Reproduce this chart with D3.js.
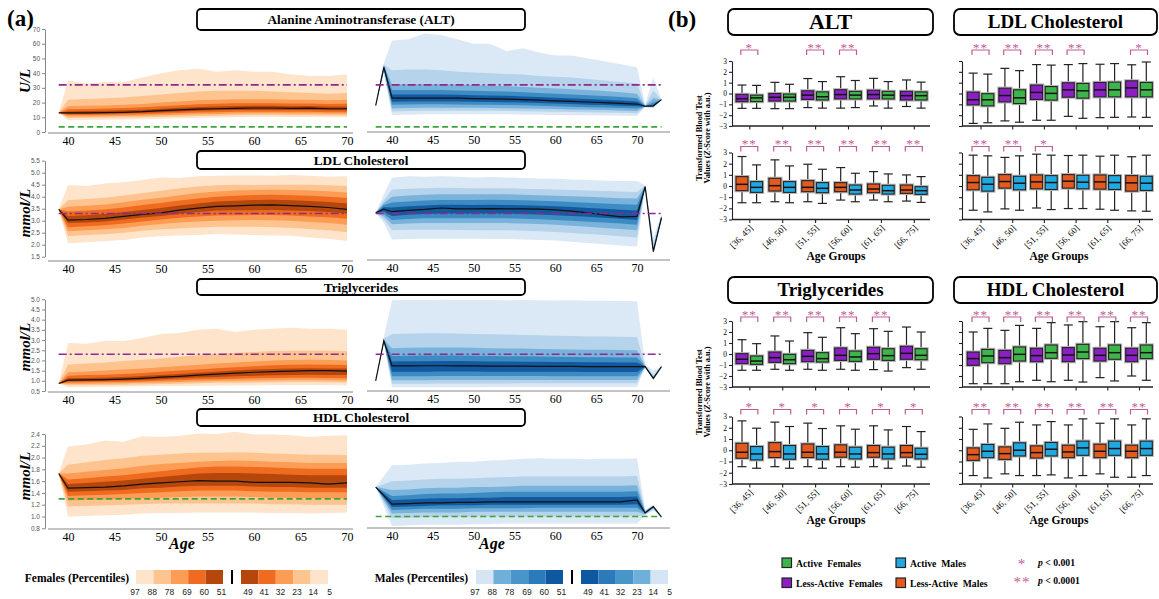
<!DOCTYPE html>
<html>
<head>
<meta charset="utf-8">
<script src="https://cdnjs.cloudflare.com/ajax/libs/d3/7.8.5/d3.min.js"></script>
<style>
  body { margin: 0; background: #fff; }
  svg { display: block; }
</style>
</head>
<body>
<svg id="chart" width="1159" height="599"></svg>
<script>
const serif = "'Liberation Serif','Times New Roman',serif"
const sans = "'Liberation Sans','DejaVu Sans',sans-serif"

// ---------- panel (a): percentile fans ----------
// columns: age, p5, p14, p23, p32, p41, p50, p60, p69, p78, p88, p97
const altFemale = [
    [39, 13, 13, 13, 13, 13, 13, 13, 13, 13, 13, 13],
    [40, 8, 9.5, 10.5, 11.5, 12.3, 13, 14, 15.5, 17.5, 22, 35],
    [42, 8.2, 9.6, 10.6, 11.6, 12.4, 13, 14.2, 15.7, 17.8, 22.5, 33],
    [44, 8.3, 9.7, 10.7, 11.7, 12.5, 13.2, 14.4, 16, 18, 23, 34],
    [46, 8.5, 9.8, 10.9, 11.9, 12.7, 13.4, 14.7, 16.3, 18.5, 23.5, 34],
    [48, 8.7, 10, 11.1, 12.1, 13, 13.8, 15.1, 16.8, 19, 24.5, 37],
    [50, 9, 10.3, 11.4, 12.5, 13.5, 14.5, 15.8, 17.5, 20, 25.5, 40],
    [52, 9.3, 10.6, 11.8, 12.9, 14, 15, 16.4, 18.2, 20.8, 26.5, 42],
    [54, 9.6, 10.9, 12.1, 13.3, 14.4, 15.5, 17, 18.8, 21.5, 27.5, 43],
    [56, 9.8, 11.1, 12.3, 13.5, 14.7, 15.8, 17.3, 19.2, 22, 28, 41],
    [58, 10, 11.3, 12.5, 13.7, 14.9, 16.1, 17.6, 19.5, 22.3, 28, 42],
    [60, 10.2, 11.5, 12.7, 13.8, 15, 16.3, 17.8, 19.6, 22.3, 28, 41],
    [62, 10.2, 11.5, 12.7, 13.8, 15, 16.3, 17.8, 19.6, 22.2, 27.5, 41],
    [64, 10.2, 11.4, 12.6, 13.7, 14.9, 16, 17.5, 19.3, 22, 27, 39],
    [66, 10.2, 11.4, 12.6, 13.7, 14.9, 16.2, 17.6, 19.4, 22, 26.5, 38],
    [68, 10, 11.2, 12.4, 13.5, 14.7, 15.8, 17.3, 19, 21.6, 26, 38],
    [70, 10, 11.2, 12.4, 13.5, 14.7, 15.8, 17.3, 19.2, 21.8, 26.5, 39]
]
const altMale = [
    [38, 18, 18, 18, 18, 18, 18, 18, 18, 18, 18, 18],
    [39, 40, 41, 42, 43, 43.5, 44, 44.5, 45, 45.5, 46, 47],
    [40, 11.5, 14, 16, 18.5, 20.5, 23, 25.5, 28.5, 32.5, 42, 62],
    [42, 11.8, 14.3, 16.3, 18.7, 20.8, 23, 25.5, 28.5, 32.5, 42.5, 63],
    [44, 12, 14.5, 16.5, 18.8, 20.8, 23, 25.5, 28.5, 32.5, 42.5, 67],
    [46, 12, 14.5, 16.5, 18.8, 20.8, 23, 25.5, 28.5, 32.5, 42, 66],
    [48, 12, 14.5, 16.5, 18.7, 20.7, 23, 25.3, 28.2, 32.2, 41, 63],
    [50, 12, 14.4, 16.4, 18.6, 20.5, 22.7, 25, 28, 32, 40.5, 60],
    [52, 12, 14.4, 16.3, 18.5, 20.4, 22.5, 24.8, 27.7, 31.5, 40, 60],
    [54, 12, 14.3, 16.2, 18.4, 20.3, 22.4, 24.6, 27.5, 31.2, 39.5, 55],
    [56, 11.8, 14.1, 16, 18.1, 20, 22, 24.2, 27, 30.7, 39, 57],
    [58, 11.7, 14, 15.8, 17.8, 19.7, 21.6, 23.8, 26.5, 30, 38, 54],
    [60, 11.5, 13.8, 15.6, 17.5, 19.3, 21.2, 23.3, 26, 29.5, 37.5, 52],
    [62, 11.4, 13.6, 15.3, 17.2, 19, 20.8, 22.8, 25.5, 29, 37, 52],
    [64, 11.3, 13.4, 15.1, 16.9, 18.6, 20.4, 22.4, 25, 28.5, 36, 50],
    [66, 11.2, 13.2, 14.9, 16.6, 18.3, 20, 22, 24.5, 27.8, 35, 48],
    [68, 11, 13, 14.6, 16.3, 17.9, 19.5, 21.4, 23.8, 27, 34, 46],
    [70, 10.8, 12.8, 14.3, 16, 17.5, 19, 20.8, 23, 26, 33, 44],
    [71, 17, 17, 17.2, 17.3, 17.4, 17.5, 17.6, 17.7, 17.8, 18, 18.5],
    [72, 16, 16.5, 17, 17.3, 17.5, 17.8, 18.5, 20, 23, 28, 37],
    [73, 22, 22, 22, 22, 22, 22, 22, 22, 22, 22, 22]
]
const ldlFemale = [
    [39, 3.47, 3.47, 3.47, 3.47, 3.47, 3.47, 3.47, 3.47, 3.47, 3.47, 3.47],
    [40, 2.06, 2.35, 2.56, 2.73, 2.9, 3.02, 3.2, 3.38, 3.58, 3.85, 4.49],
    [42, 2.1, 2.4, 2.6, 2.77, 2.93, 3.05, 3.23, 3.42, 3.62, 3.9, 4.45],
    [44, 2.15, 2.44, 2.64, 2.81, 2.97, 3.1, 3.28, 3.47, 3.68, 3.96, 4.55],
    [46, 2.2, 2.5, 2.7, 2.88, 3.05, 3.18, 3.36, 3.55, 3.77, 4.05, 4.6],
    [48, 2.3, 2.58, 2.79, 2.97, 3.13, 3.26, 3.45, 3.65, 3.87, 4.15, 4.7],
    [50, 2.35, 2.64, 2.86, 3.05, 3.2, 3.33, 3.53, 3.74, 3.96, 4.25, 4.8],
    [52, 2.38, 2.68, 2.92, 3.12, 3.29, 3.44, 3.63, 3.84, 4.06, 4.35, 4.78],
    [54, 2.4, 2.72, 2.97, 3.18, 3.36, 3.52, 3.72, 3.93, 4.15, 4.42, 4.85],
    [56, 2.45, 2.75, 3, 3.22, 3.42, 3.6, 3.8, 4, 4.22, 4.48, 4.87],
    [58, 2.43, 2.75, 3.02, 3.23, 3.44, 3.62, 3.83, 4.04, 4.26, 4.5, 4.88],
    [60, 2.4, 2.75, 3.03, 3.24, 3.44, 3.65, 3.86, 4.07, 4.28, 4.49, 4.88],
    [62, 2.38, 2.73, 3.02, 3.24, 3.45, 3.66, 3.87, 4.08, 4.29, 4.5, 4.87],
    [64, 2.37, 2.7, 3, 3.22, 3.43, 3.63, 3.85, 4.06, 4.28, 4.5, 4.9],
    [66, 2.3, 2.65, 2.95, 3.18, 3.4, 3.6, 3.82, 4.04, 4.26, 4.5, 4.87],
    [68, 2.25, 2.6, 2.9, 3.14, 3.36, 3.55, 3.78, 4, 4.23, 4.48, 4.83],
    [70, 2.15, 2.52, 2.83, 3.08, 3.3, 3.47, 3.72, 3.95, 4.18, 4.45, 4.85]
]
const ldlMale = [
    [38, 3.33, 3.33, 3.33, 3.33, 3.33, 3.33, 3.33, 3.33, 3.33, 3.33, 3.33],
    [39, 2.9, 3.05, 3.18, 3.28, 3.38, 3.48, 3.56, 3.65, 3.74, 3.85, 4.1],
    [40, 2.22, 2.6, 2.85, 3.03, 3.2, 3.375, 3.55, 3.76, 4, 4.3, 4.79],
    [42, 2.24, 2.62, 2.88, 3.07, 3.25, 3.43, 3.6, 3.8, 4.05, 4.33, 4.85],
    [44, 2.25, 2.62, 2.9, 3.1, 3.28, 3.47, 3.63, 3.84, 4.08, 4.35, 4.83],
    [46, 2.25, 2.62, 2.9, 3.1, 3.3, 3.53, 3.66, 3.86, 4.1, 4.37, 4.85],
    [48, 2.25, 2.61, 2.9, 3.1, 3.3, 3.49, 3.66, 3.86, 4.1, 4.36, 4.83],
    [50, 2.25, 2.6, 2.9, 3.1, 3.3, 3.49, 3.65, 3.86, 4.1, 4.35, 4.8],
    [52, 2.24, 2.6, 2.9, 3.1, 3.3, 3.5, 3.66, 3.87, 4.1, 4.35, 4.82],
    [54, 2.24, 2.6, 2.9, 3.1, 3.3, 3.49, 3.65, 3.86, 4.1, 4.35, 4.8],
    [56, 2.22, 2.58, 2.88, 3.08, 3.28, 3.49, 3.64, 3.85, 4.08, 4.33, 4.78],
    [58, 2.2, 2.56, 2.86, 3.06, 3.26, 3.48, 3.62, 3.83, 4.06, 4.32, 4.76],
    [60, 2.17, 2.53, 2.83, 3.03, 3.23, 3.45, 3.6, 3.81, 4.04, 4.3, 4.75],
    [62, 2.12, 2.49, 2.79, 3, 3.2, 3.4, 3.57, 3.78, 4.02, 4.28, 4.72],
    [64, 2.07, 2.45, 2.75, 2.96, 3.16, 3.33, 3.53, 3.75, 4, 4.26, 4.7],
    [66, 2.02, 2.4, 2.7, 2.92, 3.12, 3.24, 3.5, 3.72, 3.97, 4.24, 4.68],
    [68, 1.97, 2.35, 2.65, 2.88, 3.08, 3.16, 3.46, 3.69, 3.94, 4.22, 4.65],
    [70, 1.92, 2.3, 2.6, 2.83, 3.03, 3.18, 3.42, 3.66, 3.92, 4.2, 4.65],
    [71, 4.38, 4.39, 4.4, 4.41, 4.42, 4.42, 4.43, 4.44, 4.45, 4.46, 4.48],
    [72, 1.65, 1.68, 1.7, 1.71, 1.71, 1.71, 1.75, 1.8, 1.9, 2.05, 2.3],
    [73, 3, 3.03, 3.06, 3.09, 3.11, 3.13, 3.15, 3.17, 3.2, 3.23, 3.28]
]
const tgFemale = [
    [39, 0.87, 0.87, 0.87, 0.87, 0.87, 0.87, 0.87, 0.87, 0.87, 0.87, 0.87],
    [40, 0.7, 0.78, 0.85, 0.92, 0.98, 1.03, 1.12, 1.25, 1.42, 1.8, 2.85],
    [42, 0.7, 0.79, 0.86, 0.93, 0.99, 1.05, 1.14, 1.28, 1.46, 1.85, 2.82],
    [44, 0.71, 0.8, 0.87, 0.94, 1, 1.06, 1.16, 1.3, 1.5, 1.9, 2.95],
    [46, 0.72, 0.81, 0.88, 0.95, 1.02, 1.08, 1.19, 1.34, 1.55, 1.97, 2.95],
    [48, 0.73, 0.82, 0.9, 0.97, 1.04, 1.12, 1.23, 1.38, 1.6, 2.03, 3.1],
    [50, 0.74, 0.84, 0.92, 1, 1.08, 1.18, 1.29, 1.44, 1.66, 2.1, 3.3],
    [52, 0.75, 0.86, 0.94, 1.03, 1.12, 1.22, 1.34, 1.5, 1.73, 2.18, 3.35],
    [54, 0.76, 0.88, 0.97, 1.06, 1.16, 1.28, 1.4, 1.56, 1.79, 2.25, 3.5],
    [56, 0.77, 0.9, 0.99, 1.08, 1.19, 1.33, 1.45, 1.62, 1.85, 2.32, 3.55],
    [58, 0.78, 0.91, 1, 1.1, 1.22, 1.38, 1.5, 1.67, 1.9, 2.38, 3.4],
    [60, 0.78, 0.92, 1.02, 1.12, 1.25, 1.42, 1.55, 1.72, 1.95, 2.42, 3.5],
    [62, 0.79, 0.93, 1.03, 1.14, 1.27, 1.45, 1.58, 1.76, 2, 2.46, 3.55],
    [64, 0.8, 0.94, 1.04, 1.15, 1.29, 1.48, 1.61, 1.79, 2.02, 2.48, 3.6],
    [66, 0.8, 0.94, 1.04, 1.15, 1.3, 1.5, 1.62, 1.8, 2.03, 2.48, 3.55],
    [68, 0.79, 0.93, 1.03, 1.14, 1.29, 1.5, 1.61, 1.79, 2.02, 2.47, 3.55],
    [70, 0.78, 0.92, 1.02, 1.13, 1.28, 1.48, 1.6, 1.78, 2, 2.45, 3.5]
]
const tgMale = [
    [38, 1, 1, 1, 1, 1, 1, 1, 1, 1, 1, 1],
    [39, 2.85, 2.88, 2.9, 2.92, 2.94, 2.96, 2.98, 3, 3.03, 3.07, 3.15],
    [40, 0.68, 0.86, 1.03, 1.22, 1.45, 1.73, 1.95, 2.22, 2.6, 3.3, 4.95],
    [42, 0.68, 0.86, 1.03, 1.22, 1.45, 1.73, 1.96, 2.23, 2.62, 3.32, 4.97],
    [44, 0.68, 0.86, 1.03, 1.22, 1.45, 1.74, 1.96, 2.24, 2.63, 3.33, 4.96],
    [46, 0.69, 0.87, 1.04, 1.23, 1.46, 1.74, 1.97, 2.24, 2.63, 3.33, 4.98],
    [48, 0.69, 0.87, 1.04, 1.23, 1.46, 1.73, 1.97, 2.24, 2.63, 3.32, 4.97],
    [50, 0.69, 0.87, 1.04, 1.23, 1.46, 1.73, 1.96, 2.23, 2.62, 3.3, 4.96],
    [52, 0.7, 0.87, 1.04, 1.23, 1.45, 1.72, 1.95, 2.22, 2.6, 3.28, 4.97],
    [54, 0.7, 0.87, 1.04, 1.23, 1.45, 1.72, 1.95, 2.21, 2.59, 3.27, 4.95],
    [56, 0.7, 0.88, 1.04, 1.23, 1.45, 1.72, 1.94, 2.2, 2.58, 3.25, 4.96],
    [58, 0.7, 0.88, 1.04, 1.23, 1.44, 1.71, 1.93, 2.19, 2.56, 3.23, 4.95],
    [60, 0.7, 0.88, 1.04, 1.22, 1.44, 1.71, 1.92, 2.18, 2.55, 3.21, 4.94],
    [62, 0.7, 0.88, 1.04, 1.22, 1.44, 1.71, 1.92, 2.17, 2.54, 3.2, 4.95],
    [64, 0.7, 0.88, 1.04, 1.22, 1.43, 1.7, 1.91, 2.16, 2.53, 3.18, 4.93],
    [66, 0.7, 0.88, 1.04, 1.22, 1.43, 1.7, 1.91, 2.16, 2.52, 3.17, 4.93],
    [68, 0.7, 0.88, 1.04, 1.22, 1.43, 1.7, 1.9, 2.15, 2.51, 3.16, 4.92],
    [70, 0.7, 0.88, 1.04, 1.22, 1.43, 1.7, 1.9, 2.15, 2.5, 3.15, 4.9],
    [71, 1.65, 1.66, 1.67, 1.68, 1.69, 1.7, 1.71, 1.72, 1.73, 1.75, 1.8],
    [72, 1.05, 1.07, 1.09, 1.1, 1.11, 1.12, 1.14, 1.16, 1.2, 1.3, 1.5],
    [73, 1.7, 1.7, 1.7, 1.7, 1.7, 1.7, 1.7, 1.7, 1.7, 1.7, 1.7]
]
const hdlFemale = [
    [39, 1.73, 1.73, 1.73, 1.73, 1.73, 1.73, 1.73, 1.73, 1.73, 1.73, 1.73],
    [40, 1, 1.17, 1.27, 1.35, 1.42, 1.48, 1.55, 1.63, 1.73, 1.88, 2.19],
    [42, 1.01, 1.18, 1.28, 1.36, 1.43, 1.49, 1.57, 1.65, 1.76, 1.92, 2.22],
    [44, 1.02, 1.19, 1.29, 1.37, 1.44, 1.5, 1.59, 1.68, 1.79, 1.96, 2.29],
    [46, 1.03, 1.2, 1.3, 1.38, 1.45, 1.52, 1.61, 1.7, 1.82, 1.99, 2.27],
    [48, 1.05, 1.21, 1.31, 1.4, 1.48, 1.55, 1.64, 1.74, 1.86, 2.03, 2.36],
    [50, 1.06, 1.22, 1.32, 1.41, 1.49, 1.57, 1.67, 1.77, 1.89, 2.05, 2.35],
    [52, 1.06, 1.22, 1.33, 1.43, 1.51, 1.59, 1.7, 1.8, 1.91, 2.07, 2.37],
    [54, 1.07, 1.22, 1.34, 1.44, 1.52, 1.61, 1.73, 1.83, 1.93, 2.08, 2.41],
    [56, 1.07, 1.22, 1.34, 1.44, 1.52, 1.6, 1.74, 1.85, 1.94, 2.08, 2.4],
    [58, 1.07, 1.22, 1.34, 1.44, 1.52, 1.6, 1.74, 1.85, 1.95, 2.09, 2.44],
    [60, 1.07, 1.22, 1.33, 1.43, 1.51, 1.58, 1.73, 1.84, 1.94, 2.08, 2.39],
    [62, 1.06, 1.21, 1.32, 1.42, 1.5, 1.58, 1.72, 1.83, 1.93, 2.07, 2.39],
    [64, 1.06, 1.21, 1.32, 1.42, 1.5, 1.58, 1.71, 1.82, 1.92, 2.06, 2.38],
    [66, 1.05, 1.2, 1.31, 1.41, 1.49, 1.57, 1.7, 1.81, 1.91, 2.05, 2.35],
    [68, 1.06, 1.2, 1.31, 1.41, 1.49, 1.55, 1.7, 1.81, 1.91, 2.05, 2.37],
    [70, 1.07, 1.2, 1.31, 1.41, 1.49, 1.57, 1.7, 1.81, 1.91, 2.04, 2.38]
]
const hdlMale = [
    [38, 1.5, 1.5, 1.5, 1.5, 1.5, 1.5, 1.5, 1.5, 1.5, 1.5, 1.5],
    [40, 0.84, 0.97, 1.05, 1.11, 1.16, 1.21, 1.28, 1.35, 1.45, 1.6, 1.87],
    [42, 0.85, 0.98, 1.06, 1.12, 1.17, 1.22, 1.29, 1.36, 1.46, 1.61, 1.88],
    [44, 0.86, 0.99, 1.07, 1.13, 1.18, 1.23, 1.3, 1.38, 1.48, 1.63, 1.9],
    [46, 0.86, 0.99, 1.07, 1.13, 1.19, 1.23, 1.31, 1.39, 1.49, 1.64, 1.91],
    [48, 0.86, 0.99, 1.07, 1.13, 1.19, 1.24, 1.31, 1.39, 1.49, 1.64, 1.93],
    [50, 0.87, 1, 1.08, 1.14, 1.19, 1.24, 1.32, 1.4, 1.5, 1.65, 1.93],
    [52, 0.87, 1, 1.08, 1.14, 1.2, 1.25, 1.32, 1.41, 1.5, 1.66, 1.95],
    [54, 0.88, 1, 1.08, 1.14, 1.2, 1.25, 1.33, 1.42, 1.51, 1.67, 1.96],
    [56, 0.88, 1, 1.08, 1.14, 1.2, 1.25, 1.33, 1.42, 1.52, 1.68, 1.98],
    [58, 0.88, 1, 1.08, 1.15, 1.2, 1.25, 1.33, 1.42, 1.52, 1.68, 1.99],
    [60, 0.88, 1, 1.08, 1.15, 1.2, 1.25, 1.33, 1.42, 1.52, 1.68, 1.98],
    [62, 0.88, 1, 1.08, 1.15, 1.2, 1.25, 1.33, 1.42, 1.52, 1.68, 1.98],
    [64, 0.88, 1, 1.08, 1.15, 1.2, 1.25, 1.33, 1.42, 1.52, 1.68, 1.97],
    [66, 0.88, 1, 1.08, 1.15, 1.2, 1.25, 1.33, 1.42, 1.52, 1.68, 1.98],
    [68, 0.88, 1, 1.08, 1.15, 1.2, 1.25, 1.33, 1.42, 1.52, 1.68, 1.98],
    [70, 0.88, 1, 1.08, 1.15, 1.21, 1.28, 1.34, 1.43, 1.53, 1.69, 1.99],
    [71, 1.02, 1.03, 1.04, 1.05, 1.06, 1.06, 1.07, 1.08, 1.09, 1.1, 1.12],
    [72, 1.1, 1.12, 1.14, 1.15, 1.16, 1.17, 1.17, 1.18, 1.18, 1.19, 1.2],
    [73, 0.99, 0.99, 0.99, 0.99, 0.99, 0.99, 0.99, 0.99, 0.99, 0.99, 0.99]
]

// reference lines: [value, style]
const altRefsF = [[32, 'dashdot'], [3.5, 'dash']]
const altRefsM = [[32, 'dashdot'], [3.5, 'dash']]
const ldlRefsF = [[3.3, 'dashdot']]
const ldlRefsM = [[3.3, 'dashdot']]
const tgRefsF = [[2.3, 'dashdot']]
const tgRefsM = [[2.3, 'dashdot']]
const hdlRefsF = [[1.3, 'dash']]
const hdlRefsM = [[1.0, 'dash']]

const ageTicks = [40, 45, 50, 55, 60, 65, 70]
const altTicks = [0, 10, 20, 30, 40, 50, 60, 70]
const ldlTicks = [1.5, 2, 2.5, 3, 3.5, 4, 4.5, 5, 5.5]
const tgTicks = [0.5, 1, 1.5, 2, 2.5, 3, 3.5, 4, 4.5, 5]
const hdlTicks = [0.8, 1, 1.2, 1.4, 1.6, 1.8, 2, 2.2, 2.4]

const legendUpper = ['97', '88', '78', '69', '60', '51']
const legendLower = ['49', '41', '32', '23', '14', '5']

// ---------- panel (b): box plots, [low whisker, q1, median, q3, high whisker] ----------
const ageGroups = ['[36, 45]', '[46, 50]', '[51, 55]', '[56, 60]', '[61, 65]', '[66, 75]']

const altLessF = [[-1.37, -0.76, -0.48, -0.08, 0.78], [-1.4, -0.7, -0.35, 0, 1.03], [-1.3, -0.55, -0.15, 0.25, 1.38], [-1.35, -0.5, -0.1, 0.35, 1.55], [-1.15, -0.5, -0.1, 0.3, 1.4], [-1.2, -0.6, -0.2, 0.2, 1.25]]
const altActF = [[-1.37, -0.75, -0.4, -0.15, 0.75], [-1.4, -0.7, -0.35, -0.05, 0.85], [-1.35, -0.6, -0.3, 0.15, 1.1], [-1.3, -0.5, -0.15, 0.2, 1.2], [-1.35, -0.5, -0.15, 0.2, 1.1], [-1.35, -0.6, -0.2, 0.15, 1.05]]
const altLessM = [[-1.5, -0.42, 0.15, 0.84, 2.64], [-1.41, -0.45, 0.03, 0.69, 2.34], [-1.41, -0.51, -0.12, 0.48, 1.95], [-1.26, -0.51, -0.12, 0.3, 1.65], [-1.26, -0.6, -0.27, 0.18, 1.29], [-1.35, -0.66, -0.36, 0.09, 0.99]]
const altActM = [[-1.5, -0.57, -0.12, 0.39, 1.89], [-1.5, -0.57, -0.12, 0.39, 1.8], [-1.56, -0.6, -0.21, 0.3, 1.5], [-1.41, -0.72, -0.36, 0.09, 1.14], [-1.41, -0.72, -0.42, 0.06, 1.08], [-1.47, -0.75, -0.42, -0.06, 0.84]]

const ldlLessF = [[-2.76, -1.05, -0.58, 0.13, 1.88], [-2.53, -0.78, -0.19, 0.49, 2.32], [-2.47, -0.55, 0.1, 0.78, 2.67], [-2.11, -0.34, 0.34, 0.99, 2.67], [-2.23, -0.31, 0.34, 1.02, 2.7], [-2.17, -0.31, 0.52, 1.17, 2.65]]
const ldlActF = [[-2.7, -1.14, -0.58, -0.02, 1.79], [-2.65, -0.93, -0.4, 0.34, 2.11], [-2.47, -0.61, 0.01, 0.64, 2.62], [-2.29, -0.43, 0.25, 0.93, 2.76], [-2.2, -0.31, 0.34, 1.05, 2.76], [-2.2, -0.31, 0.34, 1.02, 2.91]]
const ldlLessM = [[-2.17, -0.34, 0.31, 0.93, 2.76], [-2.05, -0.19, 0.4, 1.02, 2.56], [-1.97, -0.25, 0.37, 0.99, 2.85], [-2.02, -0.19, 0.43, 1.02, 2.73], [-2.08, -0.28, 0.37, 0.99, 2.67], [-2.23, -0.46, 0.28, 0.93, 2.62]]
const ldlActM = [[-2.32, -0.46, 0.16, 0.78, 2.7], [-2.17, -0.34, 0.25, 0.87, 2.7], [-2.11, -0.31, 0.31, 0.93, 2.76], [-2.02, -0.25, 0.34, 0.96, 2.76], [-2.17, -0.31, 0.31, 0.93, 2.76], [-2.26, -0.4, 0.25, 0.87, 2.76]]

const tgLessF = [[-1.48, -0.88, -0.48, 0.03, 1.3], [-1.39, -0.76, -0.33, 0.18, 1.64], [-1.39, -0.7, -0.21, 0.33, 1.94], [-1.39, -0.58, -0.12, 0.55, 2.39], [-1.42, -0.48, 0.03, 0.61, 2.3], [-1.24, -0.48, 0.06, 0.7, 2.45]]
const tgActF = [[-1.48, -0.94, -0.64, -0.18, 0.94], [-1.48, -0.88, -0.52, -0.03, 1.18], [-1.48, -0.73, -0.42, 0.12, 1.52], [-1.48, -0.67, -0.27, 0.27, 1.85], [-1.55, -0.58, -0.15, 0.48, 2.06], [-1.39, -0.52, -0.12, 0.48, 2]]
const tgLessM = [[-1.46, -0.71, -0.18, 0.62, 2.61], [-1.46, -0.65, -0.12, 0.68, 2.5], [-1.46, -0.65, -0.18, 0.56, 2.41], [-1.46, -0.62, -0.18, 0.48, 2.17], [-1.46, -0.62, -0.21, 0.42, 2.17], [-1.4, -0.62, -0.21, 0.42, 2.11]]
const tgActM = [[-1.6, -0.86, -0.33, 0.33, 1.96], [-1.6, -0.8, -0.33, 0.42, 2.11], [-1.6, -0.8, -0.33, 0.33, 1.93], [-1.51, -0.77, -0.33, 0.27, 1.87], [-1.6, -0.77, -0.33, 0.27, 1.81], [-1.51, -0.77, -0.36, 0.18, 1.66]]

const hdlLessF = [[-2.7, -1.03, -0.42, 0.18, 2], [-2.7, -0.88, -0.33, 0.33, 2.15], [-2.39, -0.7, -0.15, 0.52, 2.33], [-2.39, -0.7, -0.09, 0.58, 2.64], [-2.15, -0.64, -0.12, 0.52, 2.48], [-2, -0.7, -0.12, 0.52, 2.39]]
const hdlActF = [[-2.7, -0.79, -0.18, 0.42, 2.33], [-2.52, -0.64, -0.03, 0.64, 2.6], [-2.52, -0.39, 0.12, 0.82, 2.85], [-2.55, -0.42, 0.18, 0.88, 2.94], [-2.45, -0.48, 0.12, 0.82, 2.94], [-2.39, -0.42, 0.12, 0.82, 2.85]]
const hdlLessM = [[-2.25, -0.9, -0.39, 0.21, 1.86], [-2.1, -0.81, -0.3, 0.3, 1.95], [-2.25, -0.69, -0.21, 0.39, 2.25], [-2.46, -0.66, -0.15, 0.45, 2.25], [-2.1, -0.66, -0.09, 0.54, 2.4], [-2.4, -0.66, -0.09, 0.45, 2.25]]
const hdlActM = [[-2.46, -0.66, -0.09, 0.51, 2.34], [-2.25, -0.51, 0, 0.66, 2.49], [-2.19, -0.51, 0.09, 0.69, 2.55], [-2.25, -0.45, 0.21, 0.81, 2.79], [-2.4, -0.45, 0.15, 0.81, 2.79], [-2.25, -0.45, 0.15, 0.81, 2.79]]

const altStarsF = ['*', '', '**', '**', '', '']
const altStarsM = ['**', '**', '**', '**', '**', '**']
const ldlStarsF = ['**', '**', '**', '**', '', '*']
const ldlStarsM = ['**', '**', '*', '', '', '']
const tgStarsF = ['**', '**', '**', '**', '**', '']
const tgStarsM = ['*', '*', '*', '*', '*', '*']
const hdlStarsF = ['**', '**', '**', '**', '**', '**']
const hdlStarsM = ['**', '**', '**', '**', '**', '**']
const zTicks = [-3, -2, -1, 0, 1, 2, 3]

// ---------- colours ----------
const orangeBands = ['#fee4ca', '#fdc48f', '#fd9c54', '#ef6b1f', '#b5460c']
const blueBands = ['#dbe9f6', '#b5d3ea', '#79b3db', '#3c8bc3', '#12599f']
const blueLegend = ['#d5e5f3', '#6fb0da', '#4795c9', '#2b7ab9', '#0d58a0']
const purpleC = '#8c1fc4', greenC = '#3db54a', orangeC = '#e35a1f', blueC = '#20a9e0'
const starC = '#bf5b95'

const svg = d3.select('#chart')

// ============ PANEL (a) ============
svg.append('text').attr('x', 7).attr('y', 26).text('(a)')
    .style('font-family', serif).style('font-weight', 'bold').style('font-size', '23px')

const femaleX = d3.scaleLinear().domain([40, 70]).range([68, 347])
const maleX = d3.scaleLinear().domain([40, 70]).range([392, 637])

const fanPanels = [
    { title: 'Alanine Aminotransferase (ALT)', unit: 'U/L', female: altFemale, male: altMale, refsF: altRefsF, refsM: altRefsM,
      ticks: altTicks, fmt: d3.format('d'), domain: [0, 70], range: [132, 29], axisY: 133, box: [9, 30], unitY: 81 },
    { title: 'LDL Cholesterol', unit: 'mmol/L', female: ldlFemale, male: ldlMale, refsF: ldlRefsF, refsM: ldlRefsM,
      ticks: ldlTicks, fmt: d3.format('.1f'), domain: [1.5, 5.5], range: [256.7, 160.7], axisY: 261, box: [151, 169], unitY: 213 },
    { title: 'Triglycerides', unit: 'mmol/L', female: tgFemale, male: tgMale, refsF: tgRefsF, refsM: tgRefsM,
      ticks: tgTicks, fmt: d3.format('.1f'), domain: [0.5, 5], range: [391, 299.3], axisY: 392, box: [279, 295], unitY: 347 },
    { title: 'HDL Cholesterol', unit: 'mmol/L', female: hdlFemale, male: hdlMale, refsF: hdlRefsF, refsM: hdlRefsM,
      ticks: hdlTicks, fmt: d3.format('.1f'), domain: [0.8, 2.4], range: [528.3, 434], axisY: 529, box: [409, 426], unitY: 476 }
]

function drawFan(g, rows, x, y, colors) {
    const bands = [[1, 11], [2, 10], [3, 9], [4, 8], [5, 7]]
    bands.forEach(([lo, hi], i) => {
        g.append('path').datum(rows)
            .attr('d', d3.area().x(d => x(d[0])).y0(d => y(d[lo])).y1(d => y(d[hi])))
            .attr('fill', colors[i])
    })
    g.append('path').datum(rows)
        .attr('d', d3.line().x(d => x(d[0])).y(d => y(d[6])))
        .attr('fill', 'none').attr('stroke', '#111').attr('stroke-width', 1.2)
}

function drawRefs(g, refs, x0, x1, y) {
    refs.forEach(([v, kind]) => {
        g.append('line').attr('x1', x0).attr('x2', x1).attr('y1', y(v)).attr('y2', y(v))
            .attr('stroke', kind === 'dash' ? '#3ba53b' : '#8e2a8e')
            .attr('stroke-width', 1.6)
            .attr('stroke-dasharray', kind === 'dash' ? '6,3.5' : '8,3,2,3')
    })
}

function drawAgeAxis(g, x, axisY, xa, xb) {
    g.append('line').attr('x1', xa).attr('x2', xb).attr('y1', axisY).attr('y2', axisY)
        .attr('stroke', '#888').attr('stroke-width', 1)
    const ax = g.append('g').attr('transform', `translate(0,${axisY})`)
        .call(d3.axisBottom(x).tickValues(ageTicks).tickSize(0).tickPadding(3))
    ax.select('.domain').remove()
    ax.selectAll('text').style('font-family', serif).style('font-size', '12px').attr('fill', '#000')
}

fanPanels.forEach(p => {
    const y = d3.scaleLinear().domain(p.domain).range(p.range)
    const g = svg.append('g')

    drawFan(g, p.female, femaleX, y, orangeBands)
    drawFan(g, p.male, maleX, y, blueBands)
    const fAges = d3.extent(p.female, d => d[0])
    const mAges = d3.extent(p.male, d => d[0])
    drawRefs(g, p.refsF, femaleX(fAges[0]), femaleX(fAges[1]), y)
    drawRefs(g, p.refsM, maleX(mAges[0]), maleX(mAges[1]), y)

    // y axis (females only)
    const ya = g.append('g').attr('transform', 'translate(45,0)')
        .call(d3.axisLeft(y).tickValues(p.ticks).tickFormat(p.fmt).tickSize(3).tickSizeOuter(0).tickPadding(2))
    ya.select('.domain').attr('stroke', '#888')
    ya.selectAll('line').attr('stroke', '#888')
    ya.selectAll('text').style('font-family', sans).style('font-size', '6.5px').attr('fill', '#555')

    drawAgeAxis(g, femaleX, p.axisY, 48, 353)
    drawAgeAxis(g, maleX, p.axisY - 1, 367, 670)

    g.append('text').attr('transform', `translate(30,${p.unitY}) rotate(-90)`)
        .attr('text-anchor', 'middle').text(p.unit)
        .style('font-family', serif).style('font-weight', 'bold').style('font-style', 'italic').style('font-size', '15px')

    // title box
    g.append('rect').attr('x', 197).attr('y', p.box[0]).attr('width', 328).attr('height', p.box[1] - p.box[0])
        .attr('rx', 4).attr('fill', '#fff').attr('stroke', '#000').attr('stroke-width', 1.8)
    g.append('text').attr('x', 361).attr('y', (p.box[0] + p.box[1]) / 2 + 4.5)
        .attr('text-anchor', 'middle').text(p.title)
        .style('font-family', serif).style('font-weight', 'bold').style('font-size', '13.3px')
})

svg.append('text').attr('x', 182).attr('y', 549).attr('text-anchor', 'middle').text('Age')
    .style('font-family', serif).style('font-weight', 'bold').style('font-style', 'italic').style('font-size', '16px')
svg.append('text').attr('x', 492).attr('y', 549).attr('text-anchor', 'middle').text('Age')
    .style('font-family', serif).style('font-weight', 'bold').style('font-style', 'italic').style('font-size', '16px')

// percentile legends
function drawPctLegend(label, labelX, x0, colors) {
    const g = svg.append('g')
    g.append('text').attr('x', labelX).attr('y', 582).attr('text-anchor', 'end').text(label)
        .style('font-family', serif).style('font-weight', 'bold').style('font-size', '11.5px')
    const cw = 17.4
    colors.forEach((c, i) => {
        g.append('rect').attr('x', x0 + i * cw).attr('y', 570).attr('width', cw).attr('height', 14).attr('fill', c)
    })
    g.append('rect').attr('x', x0 + 95).attr('y', 570).attr('width', 2).attr('height', 14).attr('fill', '#000')
    colors.slice().reverse().forEach((c, i) => {
        g.append('rect').attr('x', x0 + 105 + i * cw).attr('y', 570).attr('width', cw).attr('height', 14).attr('fill', c)
    })
    legendUpper.forEach((t, i) => {
        g.append('text').attr('x', x0 - 1 + i * 17.3).attr('y', 594.5).attr('text-anchor', 'middle').text(t)
            .style('font-family', sans).style('font-size', '8.5px').attr('fill', '#222')
    })
    legendLower.forEach((t, i) => {
        g.append('text').attr('x', x0 + 112 + i * 16.3).attr('y', 594.5).attr('text-anchor', 'middle').text(t)
            .style('font-family', sans).style('font-size', '8.5px').attr('fill', '#222')
    })
}
drawPctLegend('Females (Percentiles)', 129, 136, orangeBands)
drawPctLegend('Males (Percentiles)', 468, 476, blueLegend)

// ============ PANEL (b) ============
svg.append('text').attr('x', 668).attr('y', 27).text('(b)')
    .style('font-family', serif).style('font-weight', 'bold').style('font-size', '23px')

const bCols = [
    { x0: 732, x1: 930, c0: 749.3, step: 32.9, box: [728, 933], label: true, ageX: 836 },
    { x0: 962, x1: 1153, c0: 980.5, step: 31.7, box: [954, 1157], label: false, ageX: 1059 }
]
const bRows = [
    { box: [9, 35], upper: [126, 61], lower: [219.5, 152.5], brU: 50, brL: 146.5, ageY: 259.5, ylab: 138 },
    { box: [277, 303], upper: [387, 321], lower: [484, 416.5], brU: 317, brL: 409.5, ageY: 523.5, ylab: 392 }
]
const boxPanels = [
    { title: 'ALT', size: 22, col: 0, row: 0, f: [altLessF, altActF], m: [altLessM, altActM], sf: altStarsF, sm: altStarsM },
    { title: 'LDL Cholesterol', size: 19, col: 1, row: 0, f: [ldlLessF, ldlActF], m: [ldlLessM, ldlActM], sf: ldlStarsF, sm: ldlStarsM },
    { title: 'Triglycerides', size: 19, col: 0, row: 1, f: [tgLessF, tgActF], m: [tgLessM, tgActM], sf: tgStarsF, sm: tgStarsM },
    { title: 'HDL Cholesterol', size: 19, col: 1, row: 1, f: [hdlLessF, hdlActF], m: [hdlLessM, hdlActM], sf: hdlStarsF, sm: hdlStarsM }
]

function drawBoxSet(g, col, yRange, sets, colors, stars, brY, showLabels) {
    const y = d3.scaleLinear().domain([-3, 3]).range(yRange)
    const x = d3.scalePoint().domain(ageGroups)
        .range([col.c0, col.c0 + col.step * 5])

    // axes
    const ya = g.append('g').attr('transform', `translate(${col.x0},0)`)
        .call(d3.axisLeft(y).tickValues(zTicks).tickSize(3).tickSizeOuter(0).tickPadding(2)
            .tickFormat(col.label ? d3.format('d') : ''))
    ya.selectAll('text').style('font-family', serif).style('font-size', '7.5px').attr('fill', '#000')
    ya.selectAll('line,path').attr('stroke', '#222').attr('stroke-width', 1.1)
    g.append('line').attr('x1', col.x0).attr('x2', col.x1).attr('y1', yRange[0]).attr('y2', yRange[0])
        .attr('stroke', '#222').attr('stroke-width', 1.3)
    const xa = g.append('g').attr('transform', `translate(0,${yRange[0]})`)
        .call(d3.axisBottom(x).tickSize(3.5).tickFormat(''))
    xa.select('.domain').remove()
    xa.selectAll('line').attr('stroke', '#222').attr('stroke-width', 1.1)
    if (showLabels) {
        ageGroups.forEach(grp => {
            g.append('text')
                .attr('transform', `translate(${x(grp) + 2},${yRange[0] + 7}) rotate(-45)`)
                .attr('text-anchor', 'end').attr('dy', '0.35em').text(grp)
                .style('font-family', serif).style('font-size', '9px').attr('fill', '#000')
        })
    }

    const bw = 12
    ageGroups.forEach((grp, i) => {
        const c = x(grp)
        sets.forEach((set, k) => {
            const [lo, q1, med, q3, hi] = set[i]
            const cx = c + (k === 0 ? -7.3 : 7.3)
            g.append('line').attr('x1', cx).attr('x2', cx).attr('y1', y(hi)).attr('y2', y(lo))
                .attr('stroke', '#222').attr('stroke-width', 1.2)
            ;[lo, hi].forEach(v => {
                g.append('line').attr('x1', cx - 4.5).attr('x2', cx + 4.5).attr('y1', y(v)).attr('y2', y(v))
                    .attr('stroke', '#222').attr('stroke-width', 1.2)
            })
            g.append('rect').attr('x', cx - bw / 2).attr('y', y(q3)).attr('width', bw).attr('height', y(q1) - y(q3))
                .attr('fill', 'none').attr('stroke', '#b5b5b5').attr('stroke-width', 3.2)
            g.append('rect').attr('x', cx - bw / 2).attr('y', y(q3)).attr('width', bw).attr('height', y(q1) - y(q3))
                .attr('fill', colors[k]).attr('stroke', '#222').attr('stroke-width', 1.1)
            g.append('line').attr('x1', cx - bw / 2).attr('x2', cx + bw / 2).attr('y1', y(med)).attr('y2', y(med))
                .attr('stroke', '#111').attr('stroke-width', 1.5)
        })
        if (stars[i]) {
            g.append('path')
                .attr('d', `M${c - 8.5},${brY + 5}V${brY}H${c + 8.5}V${brY + 5}`)
                .attr('fill', 'none').attr('stroke', starC).attr('stroke-width', 1.2)
            g.append('text').attr('x', c).attr('y', brY + 1.5).attr('text-anchor', 'middle').text(stars[i])
                .style('font-family', serif).style('font-size', '13px').style('letter-spacing', '1px').attr('fill', starC)
        }
    })
}

boxPanels.forEach(p => {
    const col = bCols[p.col], row = bRows[p.row]
    const g = svg.append('g')
    g.append('rect').attr('x', col.box[0]).attr('y', row.box[0]).attr('width', col.box[1] - col.box[0])
        .attr('height', row.box[1] - row.box[0]).attr('rx', 6)
        .attr('fill', '#fff').attr('stroke', '#000').attr('stroke-width', 1.8)
    g.append('text').attr('x', (col.box[0] + col.box[1]) / 2).attr('y', (row.box[0] + row.box[1]) / 2 + p.size * 0.33)
        .attr('text-anchor', 'middle').text(p.title)
        .style('font-family', serif).style('font-weight', 'bold').style('font-size', p.size + 'px')

    drawBoxSet(g, col, row.upper, p.f, [purpleC, greenC], p.sf, row.brU, false)
    drawBoxSet(g, col, row.lower, p.m, [orangeC, blueC], p.sm, row.brL, true)

    g.append('text').attr('x', col.ageX).attr('y', row.ageY).attr('text-anchor', 'middle').text('Age Groups')
        .style('font-family', serif).style('font-weight', 'bold').style('font-size', '11.5px')

    if (col.label) {
        const t = g.append('text').attr('transform', `translate(702,${row.ylab}) rotate(-90)`)
            .attr('text-anchor', 'middle')
            .style('font-family', serif).style('font-weight', 'bold').style('font-size', '8.3px')
        t.append('tspan').attr('x', 0).attr('dy', 0).text('Transformed Blood Test')
        const t2 = g.append('text').attr('transform', `translate(710,${row.ylab}) rotate(-90)`)
            .attr('text-anchor', 'middle')
            .style('font-family', serif).style('font-weight', 'bold').style('font-size', '8.3px')
        t2.append('tspan').text('Values (')
        t2.append('tspan').style('font-style', 'italic').text('Z')
        t2.append('tspan').text('-Score with a.u.)')
    }
})

// legend (b)
const groupLegend = [
    { label: 'Active  Females', color: greenC, x: 782, y: 558 },
    { label: 'Less-Active  Females', color: purpleC, x: 782, y: 578 },
    { label: 'Active  Males', color: blueC, x: 896, y: 558 },
    { label: 'Less-Active  Males', color: orangeC, x: 896, y: 578 }
]
groupLegend.forEach(d => {
    svg.append('rect').attr('x', d.x).attr('y', d.y).attr('width', 9.5).attr('height', 9.5)
        .attr('fill', d.color).attr('stroke', '#222').attr('stroke-width', 1.2)
    svg.append('text').attr('x', d.x + 14).attr('y', d.y + 8.5).text(d.label)
        .style('font-family', serif).style('font-weight', 'bold').style('font-size', '9.7px')
        .style('white-space', 'pre')
})
const pLegend = [['*', '0.001', 569], ['**', '0.0001', 587]]
pLegend.forEach(([s, v, yy]) => {
    svg.append('text').attr('x', 1022).attr('y', yy).attr('text-anchor', 'middle').text(s)
        .style('font-family', serif).style('font-size', '15px').style('letter-spacing', '1px').attr('fill', starC)
    const t = svg.append('text').attr('x', 1038).attr('y', yy - 3)
        .style('font-family', serif).style('font-weight', 'bold').style('font-size', '9.7px')
    t.append('tspan').style('font-style', 'italic').text('p')
    t.append('tspan').text(' < ' + v)
})
</script>
</body>
</html>
